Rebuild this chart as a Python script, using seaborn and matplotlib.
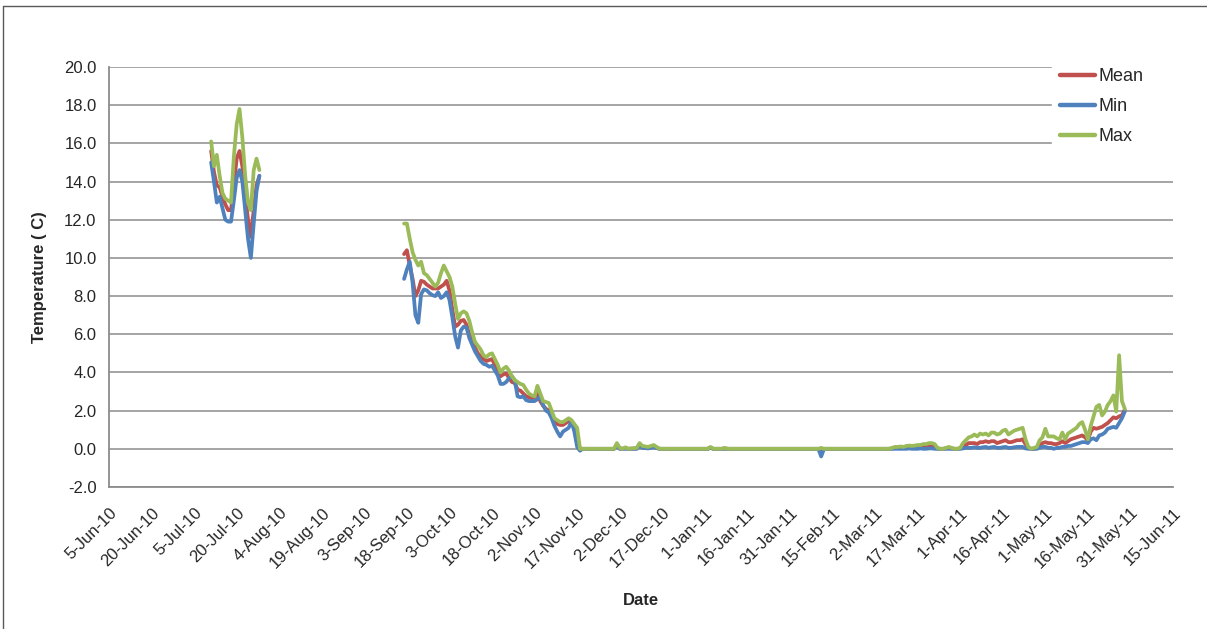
import matplotlib.pyplot as plt
import pandas as pd
import seaborn as sns
from matplotlib.lines import Line2D

# ---- data (deg C) ----
# July 2010, daily from 11 Jul to 28 Jul
jul_dates = pd.date_range("2010-07-11", "2010-07-28")
jul_mean = [15.6, 14.5, 13.8, 13.7, 13.2, 12.8, 12.5, 12.5, 13.8, 15.2,
            15.6, 14.8, 13.3, 12.0, 11.1, 12.5, 13.8, 14.3]
jul_min = [15.0, 14.0, 12.9, 13.2, 12.6, 12.0, 11.9, 11.9, 13.0, 14.2,
           14.6, 14.0, 12.5, 11.0, 10.0, 11.8, 13.5, 14.3]
jul_max = [16.1, 14.8, 15.4, 14.3, 13.4, 13.1, 13.0, 12.9, 15.3, 17.0,
           17.8, 16.3, 14.3, 12.9, 12.5, 14.6, 15.2, 14.6]

# autumn 2010, daily from 17 Sep to 18 Nov
aut_dates = pd.date_range("2010-09-17", "2010-11-18")
aut_mean = [10.2, 10.4, 9.6, 8.9, 8.0, 8.3, 8.8, 8.75, 8.6, 8.5,
            8.4, 8.4, 8.4, 8.5, 8.6, 8.8, 8.3, 7.3, 6.4, 6.5,
            6.7, 6.75, 6.5, 6.0, 5.8, 5.3, 5.0, 4.85, 4.7, 4.6,
            4.65, 4.7, 4.4, 4.0, 3.8, 3.9, 3.95, 3.7, 3.5, 3.45,
            3.1, 3.05, 2.9, 2.75, 2.7, 2.65, 2.7, 2.9, 2.5, 2.25,
            2.1, 2.0, 1.7, 1.4, 1.3, 1.25, 1.25, 1.35, 1.45, 1.4,
            1.1, 0.6, 0.0]
aut_min = [8.9, 9.4, 9.8, 8.7, 7.0, 6.6, 8.1, 8.35, 8.3, 8.15,
           8.05, 8.0, 8.2, 7.9, 8.0, 8.2, 7.8, 6.9, 5.9, 5.3,
           6.2, 6.4, 6.35, 5.8, 5.45, 5.1, 4.85, 4.6, 4.45, 4.4,
           4.3, 4.35, 4.1, 3.85, 3.4, 3.4, 3.5, 3.7, 3.8, 3.6,
           2.75, 2.7, 2.75, 2.55, 2.5, 2.5, 2.5, 2.6, 2.75, 2.3,
           2.0, 1.9, 1.6, 1.2, 0.9, 0.65, 0.9, 1.0, 1.1, 1.45,
           0.9, 0.1, -0.1]
aut_max = [11.8, 11.8, 11.0, 10.3, 9.9, 9.6, 9.8, 9.2, 9.1, 8.9,
           8.7, 8.5, 8.7, 9.2, 9.6, 9.3, 9.0, 8.5, 7.6, 6.8,
           7.1, 7.2, 7.1, 6.7, 6.1, 5.6, 5.4, 5.2, 4.9, 4.8,
           4.95, 5.0, 4.7, 4.4, 4.0, 4.2, 4.3, 4.1, 3.8, 3.6,
           3.5, 3.4, 3.35, 3.1, 2.9, 2.8, 2.75, 3.3, 2.9, 2.5,
           2.45, 2.4, 2.0, 1.6, 1.5, 1.4, 1.4, 1.5, 1.6, 1.5,
           1.3, 1.1, 0.0]

# winter, only the days where something changes
win_dates = pd.to_datetime([
    "2010-11-19", "2010-11-30", "2010-12-01", "2010-12-02", "2010-12-03",
    "2010-12-04", "2010-12-05", "2010-12-08", "2010-12-09", "2010-12-10",
    "2010-12-12", "2010-12-14", "2010-12-16", "2011-01-02", "2011-01-03",
    "2011-01-04", "2011-01-07", "2011-01-08", "2011-01-09", "2011-02-10",
    "2011-02-11", "2011-02-12", "2011-03-05"])
win_mean = [0, 0, 0.2, 0.02, 0, 0.04, 0, 0.02, 0.2, 0.1, 0.05, 0.12,
            0, 0, 0.05, 0, 0, 0.02, 0, 0, -0.05, 0, 0]
win_min = [0, 0, 0.15, 0, 0, 0, 0, 0, 0.15, 0.05, 0.02, 0.08,
           0, 0, 0.05, 0, 0, 0, 0, 0, -0.4, 0, 0]
win_max = [0, 0, 0.3, 0.05, 0, 0.08, 0, 0.05, 0.3, 0.15, 0.1, 0.2,
           0, 0, 0.1, 0, 0, 0.05, 0, 0, 0.05, 0, 0]

# spring 2011, daily from 6 Mar to 29 May
spr_dates = pd.date_range("2011-03-06", "2011-05-29")
spr_mean = [0, 0, 0.02, 0.05, 0.05, 0.05, 0.05, 0.07, 0.08, 0.07,
            0.08, 0.08, 0.1, 0.1, 0.12, 0.12, 0.12, 0.1, 0.02, 0,
            0, 0.02, 0.05, 0.02, 0, 0, 0.02,
            0.1, 0.2, 0.3, 0.3, 0.3, 0.25, 0.35, 0.35, 0.4, 0.35,
            0.4, 0.4, 0.3, 0.35, 0.4, 0.45, 0.35, 0.35, 0.4, 0.45,
            0.45, 0.5, 0.25, 0.05, 0.0, 0.0, 0.05, 0.2, 0.3, 0.35,
            0.3, 0.3, 0.25, 0.25, 0.3, 0.4, 0.3, 0.4, 0.5, 0.55,
            0.6, 0.65, 0.7, 0.6, 0.45, 0.9, 1.1, 1.05, 1.1, 1.15,
            1.25, 1.35, 1.5, 1.65, 1.6, 1.7, 1.75, 2.05]
spr_min = [0, 0, 0, 0, 0, 0, 0, 0, 0.02, 0,
           0, 0, 0.02, 0, 0, 0.02, 0.02, 0, 0, 0,
           0, 0, 0, 0, 0, 0, 0,
           0.02, 0.05, 0.05, 0.05, 0.08, 0.05, 0.05, 0.08, 0.1, 0.05,
           0.08, 0.1, 0.05, 0.05, 0.08, 0.1, 0.05, 0.05, 0.08, 0.1,
           0.1, 0.1, 0.02, 0.0, 0.0, 0.0, 0.0, 0.05, 0.1, 0.1,
           0.05, 0.05, 0.0, 0.05, 0.05, 0.1, 0.1, 0.15, 0.15, 0.2,
           0.25, 0.3, 0.35, 0.35, 0.3, 0.5, 0.55, 0.45, 0.7, 0.75,
           0.85, 1.05, 1.1, 1.15, 1.1, 1.35, 1.6, 1.95]
spr_max = [0.0, 0.0, 0.05, 0.1, 0.1, 0.12, 0.1, 0.15, 0.17, 0.15,
           0.17, 0.2, 0.2, 0.25, 0.25, 0.3, 0.3, 0.25, 0.05, 0.0,
           0.0, 0.05, 0.1, 0.05, 0.0, 0.0, 0.05,
           0.3, 0.45, 0.6, 0.65, 0.75, 0.65, 0.8, 0.75, 0.8, 0.7,
           0.85, 0.85, 0.75, 0.8, 0.95, 1.0, 0.75, 0.85, 0.95, 1.0,
           1.05, 1.1, 0.5, 0.1, 0.0, 0.05, 0.1, 0.45, 0.6, 1.05,
           0.65, 0.65, 0.65, 0.55, 0.5, 0.85, 0.5, 0.8, 0.9, 1.0,
           1.1, 1.3, 1.4, 1.0, 0.5, 1.2, 1.7, 2.2, 2.3, 1.75,
           1.95, 2.3, 2.5, 2.8, 1.95, 4.9, 2.5, 2.1]

series_names = ["Mean", "Min", "Max"]
colors = ["#C0504D", "#4F81BD", "#9BBB59"]

# the Jul block is one line, Sep-May is another (gap in between)
segments = [
    (0, jul_dates, [jul_mean, jul_min, jul_max]),
    (1, aut_dates, [aut_mean, aut_min, aut_max]),
    (1, win_dates, [win_mean, win_min, win_max]),
    (1, spr_dates, [spr_mean, spr_min, spr_max]),
]

frames = []
for unit, dates, values in segments:
    for name, vals in zip(series_names, values):
        frames.append(pd.DataFrame({"Date": dates, "Temp": vals,
                                    "series": name, "segment": unit}))
df = pd.concat(frames, ignore_index=True)

sns.set_style("white")
plt.rcParams["font.family"] = ["Liberation Sans", "DejaVu Sans"]

fig = plt.figure(figsize=(12.07, 6.29), dpi=100)
ax = fig.add_axes([109 / 1207, 1 - 487 / 629, 1064 / 1207, 420 / 629])

sns.lineplot(data=df, x="Date", y="Temp", hue="series", units="segment",
             estimator=None, hue_order=series_names, palette=colors,
             linewidth=2.7, sort=True, ax=ax)

grid_col = "#8C8C8C"
ax.set_ylim(-2, 20)
ax.set_yticks(range(-2, 21, 2))
ax.set_yticklabels([f"{v:.1f}" for v in range(-2, 21, 2)], fontsize=12)
ax.yaxis.grid(True, color=grid_col, linewidth=1.1)
ax.xaxis.grid(False)

ticks = pd.date_range("2010-06-05", "2011-06-15", freq="15D")
ax.set_xlim(ticks[0], ticks[-1])
ax.set_xticks(ticks)
ax.set_xticklabels([f"{d.day}-{d:%b-%y}" for d in ticks], rotation=45,
                   ha="right", rotation_mode="anchor", fontsize=12)

for side in ["top", "right"]:
    ax.spines[side].set_visible(False)
for side in ["left", "bottom"]:
    ax.spines[side].set_color(grid_col)
    ax.spines[side].set_linewidth(1.3)
ax.tick_params(axis="y", direction="out", length=5, color=grid_col, width=1.1, pad=4)
ax.tick_params(axis="x", length=0, pad=13)

ax.set_ylabel("Temperature ( C)", fontsize=12, fontweight="bold", labelpad=12)
ax.set_xlabel("Date", fontsize=12, fontweight="bold", labelpad=16)

handles, labels = ax.get_legend_handles_labels()
leg = ax.legend(handles, labels, loc="upper left",
                bbox_to_anchor=(1052 / 1207, 1 - 60 / 629, 121 / 1207, 0.0),
                bbox_transform=fig.transFigure, mode="expand", fontsize=13,
                frameon=True, facecolor="white", edgecolor="white",
                framealpha=1, handlelength=1.95, handletextpad=0.2,
                labelspacing=0.72, borderaxespad=0, borderpad=0.45)
for line in leg.get_lines():
    line.set_linewidth(3.2)

# outer chart border (only left and top edges are inside the image)
fig.add_artist(Line2D([3 / 1207, 3 / 1207], [0, 1 - 6 / 629],
                      transform=fig.transFigure, color="#595959", linewidth=1))
fig.add_artist(Line2D([3 / 1207, 1], [1 - 6 / 629, 1 - 6 / 629],
                      transform=fig.transFigure, color="#595959", linewidth=1))

fig.savefig("out.png", dpi=100, facecolor="white")
